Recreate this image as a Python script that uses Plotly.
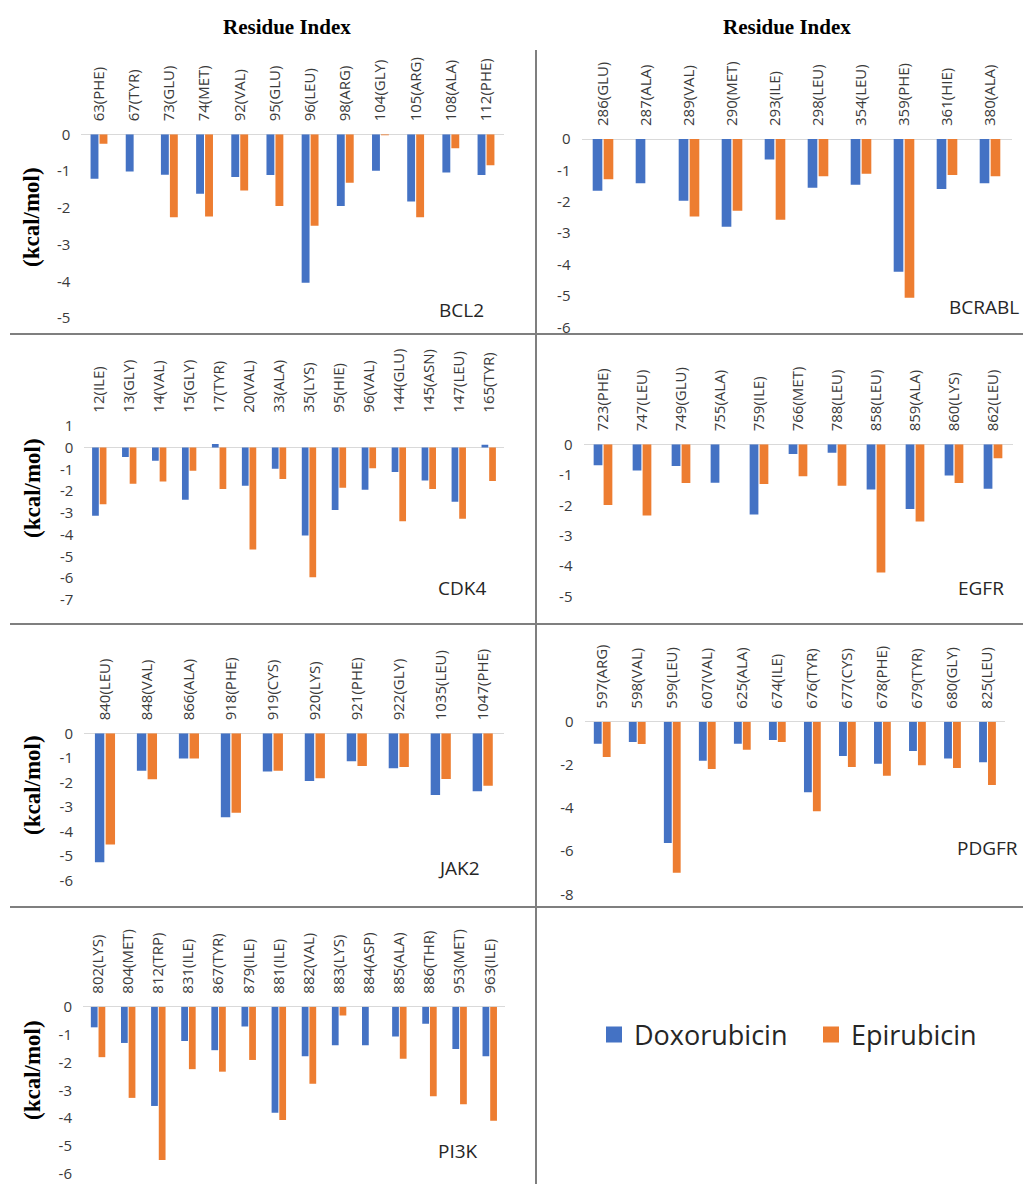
import plotly.graph_objects as go

# ---------------- data ----------------
BCL2_residues = ["63(PHE)", "67(TYR)", "73(GLU)", "74(MET)", "92(VAL)", "95(GLU)", "96(LEU)",
                 "98(ARG)", "104(GLY)", "105(ARG)", "108(ALA)", "112(PHE)"]
BCL2_dox = [-1.21, -1.01, -1.10, -1.62, -1.16, -1.11, -4.04, -1.95, -0.99, -1.83, -1.04, -1.11]
BCL2_epi = [-0.26, 0.0, -2.26, -2.24, -1.53, -1.95, -2.49, -1.32, -0.02, -2.26, -0.38, -0.84]

BCRABL_residues = ["286(GLU)", "287(ALA)", "289(VAL)", "290(MET)", "293(ILE)", "298(LEU)",
                   "354(LEU)", "359(PHE)", "361(HIE)", "380(ALA)"]
BCRABL_dox = [-1.65, -1.41, -1.97, -2.80, -0.65, -1.55, -1.46, -4.23, -1.59, -1.41]
BCRABL_epi = [-1.28, 0.0, -2.47, -2.29, -2.57, -1.19, -1.11, -5.06, -1.15, -1.19]

CDK4_residues = ["12(ILE)", "13(GLY)", "14(VAL)", "15(GLY)", "17(TYR)", "20(VAL)", "33(ALA)",
                 "35(LYS)", "95(HIE)", "96(VAL)", "144(GLU)", "145(ASN)", "147(LEU)", "165(TYR)"]
CDK4_dox = [-3.13, -0.44, -0.61, -2.40, 0.16, -1.76, -0.98, -4.04, -2.87, -1.94, -1.12, -1.51, -2.49, 0.12]
CDK4_epi = [-2.60, -1.67, -1.56, -1.07, -1.90, -4.68, -1.45, -5.96, -1.85, -0.95, -3.39, -1.90, -3.27, -1.54]

EGFR_residues = ["723(PHE)", "747(LEU)", "749(GLU)", "755(ALA)", "759(ILE)", "766(MET)",
                 "788(LEU)", "858(LEU)", "859(ALA)", "860(LYS)", "862(LEU)"]
EGFR_dox = [-0.69, -0.86, -0.71, -1.26, -2.30, -0.32, -0.28, -1.48, -2.12, -1.02, -1.46]
EGFR_epi = [-1.99, -2.34, -1.27, 0.0, -1.30, -1.05, -1.36, -4.21, -2.53, -1.27, -0.46]

JAK2_residues = ["840(LEU)", "848(VAL)", "866(ALA)", "918(PHE)", "919(CYS)", "920(LYS)",
                 "921(PHE)", "922(GLY)", "1035(LEU)", "1047(PHE)"]
JAK2_dox = [-5.25, -1.52, -1.03, -3.42, -1.56, -1.94, -1.14, -1.42, -2.51, -2.36]
JAK2_epi = [-4.53, -1.87, -1.03, -3.23, -1.52, -1.83, -1.33, -1.37, -1.86, -2.14]

PDGFR_residues = ["597(ARG)", "598(VAL)", "599(LEU)", "607(VAL)", "625(ALA)", "674(ILE)",
                  "676(TYR)", "677(CYS)", "678(PHE)", "679(TYR)", "680(GLY)", "825(LEU)"]
PDGFR_dox = [-1.02, -0.94, -5.62, -1.81, -1.02, -0.85, -3.27, -1.59, -1.95, -1.36, -1.71, -1.88]
PDGFR_epi = [-1.64, -1.03, -7.00, -2.19, -1.30, -0.94, -4.15, -2.10, -2.50, -2.02, -2.15, -2.93]

PI3K_residues = ["802(LYS)", "804(MET)", "812(TRP)", "831(ILE)", "867(TYR)", "879(ILE)", "881(ILE)",
                 "882(VAL)", "883(LYS)", "884(ASP)", "885(ALA)", "886(THR)", "953(MET)", "963(ILE)"]
PI3K_dox = [-0.74, -1.30, -3.56, -1.23, -1.56, -0.71, -3.80, -1.78, -1.38, -1.38, -1.07, -0.61, -1.52, -1.78]
PI3K_epi = [-1.81, -3.27, -5.50, -2.24, -2.33, -1.91, -4.06, -2.76, -0.32, 0.0, -1.87, -3.21, -3.50, -4.09]

BCL2_ticks = [0, -1, -2, -3, -4, -5]
BCRABL_ticks = [0, -1, -2, -3, -4, -5, -6]
CDK4_ticks = [1, 0, -1, -2, -3, -4, -5, -6, -7]
EGFR_ticks = [0, -1, -2, -3, -4, -5]
JAK2_ticks = [0, -1, -2, -3, -4, -5, -6]
PDGFR_ticks = [0, -2, -4, -6, -8]
PI3K_ticks = [0, -1, -2, -3, -4, -5, -6]

series_names = ["Doxorubicin", "Epirubicin"]
series_colors = ["#4472C4", "#ED7D31"]

# ---------------- layout helpers ----------------
W, H = 1023, 1184


def fx(p):
    return p / W


def fy(p):
    return 1 - p / H


panels = [
    ("BCL2", BCL2_residues, BCL2_dox, BCL2_epi, BCL2_ticks, (81.4, 503.6, 134.3, 318.0), (461, 310), "center", 217),
    ("BCRABL", BCRABL_residues, BCRABL_dox, BCRABL_epi, BCRABL_ticks, (581.5, 1011.5, 139.0, 327.3), (1021, 307), "right", None),
    ("CDK4", CDK4_residues, CDK4_dox, CDK4_epi, CDK4_ticks, (84.3, 503.7, 425.7, 600.0), (462, 588), "center", 488),
    ("EGFR", EGFR_residues, EGFR_dox, EGFR_epi, EGFR_ticks, (583.5, 1012.5, 444.3, 596.7), (981, 588), "center", None),
    ("JAK2", JAK2_residues, JAK2_dox, JAK2_epi, JAK2_ticks, (84.0, 503.7, 733.3, 880.7), (459, 868), "center", 785),
    ("PDGFR", PDGFR_residues, PDGFR_dox, PDGFR_epi, PDGFR_ticks, (584.7, 1005.0, 721.7, 894.3), (1020, 848), "right", None),
    ("PI3K", PI3K_residues, PI3K_dox, PI3K_epi, PI3K_ticks, (83.0, 504.8, 1006.7, 1174.0), (458, 1151), "center", 1070),
]

fig = go.Figure()
layout = dict(
    width=W, height=H, autosize=False,
    margin=dict(l=0, r=0, t=0, b=0, pad=0, autoexpand=False),
    paper_bgcolor="white", plot_bgcolor="white",
    barmode="group", bargap=0.49, bargroupgap=0.12,
    font=dict(family="Open Sans", color="#404040"),
    showlegend=True,
)
annotations = []
shapes = []

for i, (name, res, dox, epi, ticks, box, lpos, lanchor, ytpos) in enumerate(panels, start=1):
    xa = "x" if i == 1 else f"x{i}"
    ya = "y" if i == 1 else f"y{i}"
    for vals, sname, col in zip([dox, epi], series_names, series_colors):
        fig.add_trace(go.Bar(x=res, y=vals, name=sname, marker=dict(color=col, line=dict(width=0)),
                             xaxis=xa, yaxis=ya, showlegend=False, legendgroup=sname))
    x0, x1, ytop, ybot = box
    layout["xaxis" if i == 1 else f"xaxis{i}"] = dict(
        type="category", domain=[fx(x0), fx(x1)], anchor=ya, side="top",
        range=[-0.5, len(res) - 0.5], tickangle=-90, showgrid=False, showline=False,
        zeroline=False, ticks="", tickfont=dict(size=15, color="#3a3a3a", family="Open Sans"),
        ticklabelstandoff=12, fixedrange=True, automargin=False,
    )
    layout["yaxis" if i == 1 else f"yaxis{i}"] = dict(
        domain=[fy(ybot), fy(ytop)], anchor=xa, range=[min(ticks), max(ticks)],
        tickvals=ticks, ticktext=[str(t) for t in ticks], showgrid=False, showline=False,
        zeroline=True, zerolinecolor="#d9d9d9", zerolinewidth=1, ticks="",
        tickfont=dict(size=15, color="#3a3a3a", family="Open Sans"), ticklabelstandoff=10,
        ticklabeloverflow="allow", fixedrange=True, automargin=False,
    )
    annotations.append(dict(text=name, xref="paper", yref="paper", x=fx(lpos[0]), y=fy(lpos[1]),
                            xanchor=lanchor, yanchor="middle", showarrow=False,
                            font=dict(size=19, color="#262626", family="Open Sans")))
    if ytpos is not None:
        annotations.append(dict(text="<b>(kcal/mol)</b>", xref="paper", yref="paper", x=fx(32), y=fy(ytpos),
                                xanchor="center", yanchor="middle", textangle=-90, showarrow=False,
                                font=dict(size=23, color="black", family="Liberation Serif")))

for cx in (287, 787):
    annotations.append(dict(text="<b>Residue Index</b>", xref="paper", yref="paper", x=fx(cx), y=fy(27),
                            xanchor="center", yanchor="middle", showarrow=False,
                            font=dict(size=21, color="black", family="Liberation Serif")))

# legend entries (square markers)
for sname, col in zip(series_names, series_colors):
    fig.add_trace(go.Scatter(x=[None], y=[None], mode="markers", name=sname, legendgroup=sname,
                             marker=dict(symbol="square", size=16, color=col, line=dict(width=0)),
                             xaxis="x", yaxis="y", showlegend=True))

layout["legend"] = dict(orientation="h", x=fx(594), y=fy(1035), xanchor="left", yanchor="middle",
                        font=dict(size=27, color="#262626", family="Open Sans"),
                        itemwidth=30, entrywidth=172, entrywidthmode="pixels",
                        bgcolor="rgba(0,0,0,0)", itemclick=False, itemdoubleclick=False)

# panel divider lines
line_style = dict(color="#7f7f7f", width=2)
shapes.append(dict(type="line", xref="paper", yref="paper", x0=fx(536), x1=fx(536), y0=fy(50), y1=fy(1184), line=line_style))
for yy in (334, 624, 907):
    shapes.append(dict(type="line", xref="paper", yref="paper", x0=fx(10), x1=fx(1023), y0=fy(yy), y1=fy(yy), line=line_style))

layout["annotations"] = annotations
layout["shapes"] = shapes
fig.update_layout(**layout)

fig.write_html("out.html", config={"displayModeBar": False},
               post_script="document.body.style.margin='0';document.body.style.overflow='hidden';")
